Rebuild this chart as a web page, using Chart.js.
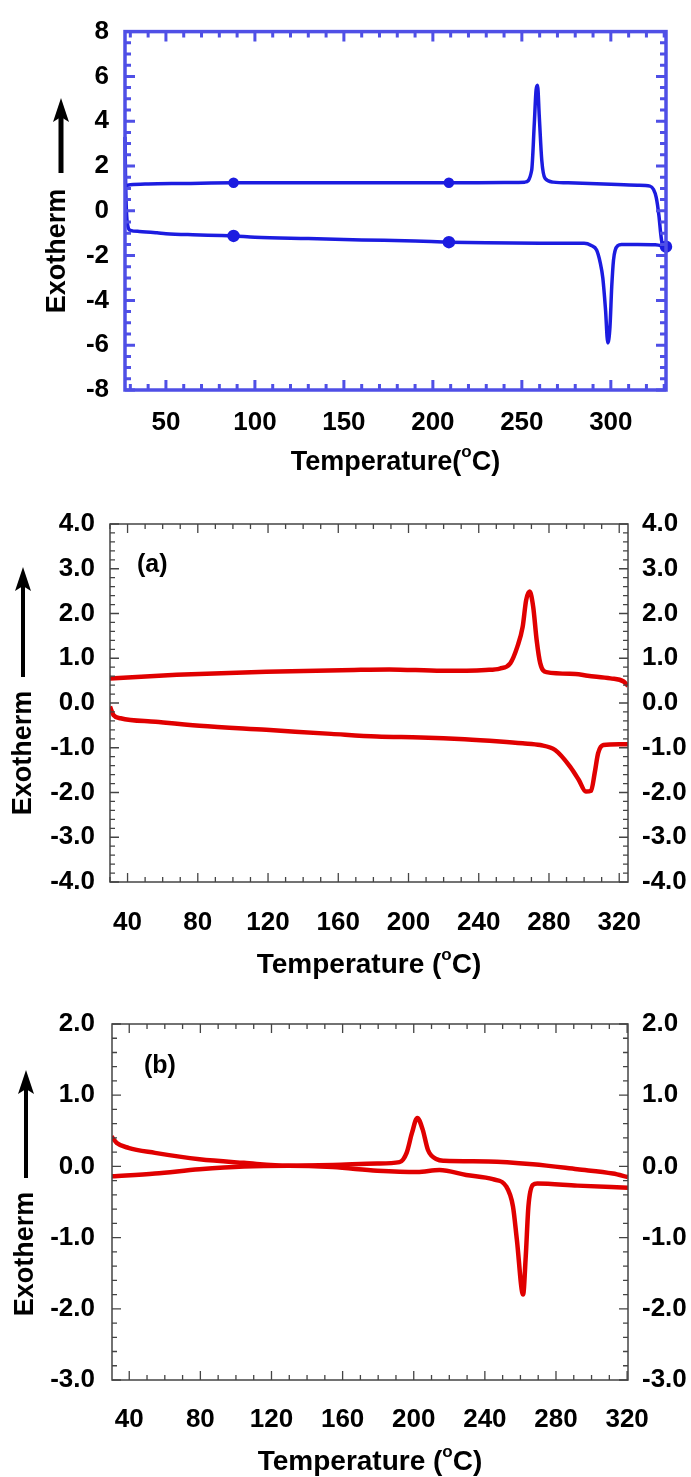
<!DOCTYPE html>
<html lang="en">
<head>
<meta charset="UTF-8">
<title>DSC curves</title>
<script src="https://cdn.jsdelivr.net/npm/chart.js"></script>
<style>
  html, body { margin: 0; padding: 0; background: #fff; }
  #wrap { position: relative; width: 691px; height: 1477px; }
  .panel { position: absolute; left: 0; width: 691px; }
</style>
</head>
<body>
<div id="wrap">
  <div class="panel" style="top:0"><canvas id="c1" width="691" height="490"></canvas></div>
  <div class="panel" style="top:490px"><canvas id="c2" width="691" height="500"></canvas></div>
  <div class="panel" style="top:990px"><canvas id="c3" width="691" height="487"></canvas></div>
</div>
<script>
// ---- top panel (blue) ----
const topTicksX = [50, 100, 150, 200, 250, 300];
const topTicksY = [-8, -6, -4, -2, 0, 2, 4, 6, 8];
const topUpperT = [27, 30, 40, 60, 88, 120, 160, 209, 240, 251.7, 255.5, 257, 258, 258.8, 259.8, 261.2, 263, 267.6, 280, 300, 315, 322, 324, 325.5, 327, 328, 329];
const topUpperV = [1.12, 1.16, 1.2, 1.22, 1.25, 1.25, 1.25, 1.25, 1.26, 1.28, 1.8, 3.9, 5.4, 5.6, 4.2, 2.25, 1.45, 1.28, 1.24, 1.18, 1.14, 1.1, 0.95, 0.6, -0.2, -1.0, -1.6];
const topLowerT = [27, 27.3, 27.8, 28.5, 30, 35, 45, 50, 65, 81, 88, 100, 130, 160, 190, 209, 230, 260, 285, 289, 292, 294, 295.5, 297, 298.3, 299.5, 300.5, 301.5, 302.5, 304, 306, 315, 325, 331];
const topLowerV = [3.3, 1.5, 0.0, -0.65, -0.87, -0.92, -0.98, -1.02, -1.07, -1.1, -1.12, -1.18, -1.24, -1.3, -1.35, -1.4, -1.43, -1.45, -1.45, -1.55, -1.75, -2.3, -3.0, -4.4, -5.9, -5.2, -3.4, -2.2, -1.75, -1.55, -1.5, -1.5, -1.52, -1.6];
const topMarkT = [88, 209, 331];

// ---- panel (a) ----
const aTicksX = [40, 80, 120, 160, 200, 240, 280, 320];
const aTicksY = [-4, -3, -2, -1, 0, 1, 2, 3, 4];
const aUpperT = [30, 68, 119, 169, 189, 219, 244, 252, 258, 262, 265, 267, 269, 271, 273, 275, 278.5, 295, 302, 315, 322.5, 325];
const aUpperV = [0.55, 0.63, 0.70, 0.74, 0.75, 0.72, 0.74, 0.77, 0.89, 1.26, 1.7, 2.3, 2.49, 2.15, 1.4, 0.89, 0.69, 0.65, 0.61, 0.55, 0.48, 0.38];
const aLowerT = [30, 32, 36, 56, 81, 119, 156, 182, 207, 232, 252, 265, 275, 283.5, 292, 297, 301, 304, 306, 308, 311, 320, 325];
const aLowerV = [-0.08, -0.27, -0.34, -0.42, -0.51, -0.60, -0.69, -0.75, -0.77, -0.81, -0.86, -0.90, -0.94, -1.05, -1.42, -1.72, -1.98, -1.96, -1.57, -1.12, -0.94, -0.92, -0.92];

// ---- panel (b) ----
const bTicksX = [40, 80, 120, 160, 200, 240, 280, 320];
const bTicksY = [-3, -2, -1, 0, 1, 2];
const bUpperT = [30, 33, 39.5, 54.5, 79.5, 104.5, 129.5, 154.5, 179.5, 192, 196, 199, 202, 205, 208, 213, 217, 242, 267, 292, 312, 320.5];
const bUpperV = [0.42, 0.33, 0.26, 0.19, 0.10, 0.05, 0.01, 0.02, 0.04, 0.06, 0.19, 0.47, 0.68, 0.52, 0.23, 0.10, 0.08, 0.07, 0.03, -0.04, -0.10, -0.15];
const bLowerT = [30, 54.5, 79.5, 104.5, 129.5, 154.5, 179.5, 202, 214.5, 229.5, 244.5, 252, 255.8, 258, 261.5, 263, 264.5, 267, 269.5, 292, 320.5];
const bLowerV = [-0.14, -0.10, -0.04, 0.0, 0.01, -0.01, -0.06, -0.08, -0.05, -0.12, -0.18, -0.28, -0.56, -1.03, -1.80, -1.26, -0.56, -0.26, -0.24, -0.27, -0.30];

const FONT = "'Liberation Sans', Arial, sans-serif";

function pts(xs, ys) {
  return xs.map((x, i) => ({ x: x, y: ys[i] }));
}

// frame, inward ticks, titles, arrow
const decor = {
  id: 'decor',
  afterDatasetsDraw(chart, args, o) {
    const ctx = chart.ctx;
    const a = chart.chartArea;
    const sx = chart.scales.x, sy = chart.scales.y;
    ctx.save();
    ctx.strokeStyle = o.color;
    ctx.lineCap = 'butt';

    function each(min, max, step, major, fn) {
      const k0 = Math.ceil(min / step - 1e-9), k1 = Math.floor(max / step + 1e-9);
      for (let k = k0; k <= k1; k++) {
        const v = k * step;
        const r = v / major;
        fn(v, Math.abs(r - Math.round(r)) < 1e-6);
      }
    }
    ctx.lineWidth = o.tickWidth;
    ctx.beginPath();
    each(sx.min, sx.max, o.xMinor, o.xMajor, (v, big) => {
      const px = sx.getPixelForValue(v);
      const len = big ? o.majorLen : o.minorLen;
      ctx.moveTo(px, a.bottom); ctx.lineTo(px, a.bottom - len);
      ctx.moveTo(px, a.top); ctx.lineTo(px, a.top + len);
    });
    each(sy.min, sy.max, o.yMinor, o.yMajor, (v, big) => {
      const py = sy.getPixelForValue(v);
      const len = big ? o.majorLen : o.minorLen;
      ctx.moveTo(a.left, py); ctx.lineTo(a.left + len, py);
      ctx.moveTo(a.right, py); ctx.lineTo(a.right - len, py);
    });
    ctx.stroke();

    ctx.lineWidth = o.frameWidth;
    ctx.strokeRect(a.left, a.top, a.right - a.left, a.bottom - a.top);

    // x title with superscript o
    ctx.fillStyle = '#000';
    ctx.textBaseline = 'alphabetic';
    const fs = o.titleSize;
    const big = 'bold ' + fs + 'px ' + FONT;
    const small = 'bold ' + Math.round(fs * 0.62) + 'px ' + FONT;
    ctx.font = big;
    const w1 = ctx.measureText(o.xTitle[0]).width;
    const w3 = ctx.measureText(o.xTitle[2]).width;
    ctx.font = small;
    const w2 = ctx.measureText(o.xTitle[1]).width;
    let tx = (a.left + a.right) / 2 - (w1 + w2 + w3) / 2;
    const ty = a.bottom + o.xTitleOffset + fs * 0.36;
    ctx.font = big;
    ctx.textAlign = 'left';
    ctx.fillText(o.xTitle[0], tx, ty);
    ctx.font = small;
    ctx.fillText(o.xTitle[1], tx + w1, ty - fs * 0.47);
    ctx.font = big;
    ctx.fillText(o.xTitle[2], tx + w1 + w2, ty);

    // y title rotated
    ctx.save();
    ctx.translate(o.yTitleX, o.yTitleY);
    ctx.rotate(-Math.PI / 2);
    ctx.font = 'bold ' + o.yTitleSize + 'px ' + FONT;
    ctx.textAlign = 'center';
    ctx.textBaseline = 'middle';
    ctx.fillText(o.yTitle, 0, 0);
    ctx.restore();

    // arrow
    ctx.fillStyle = '#000';
    ctx.strokeStyle = '#000';
    ctx.lineWidth = o.arrow.width;
    ctx.beginPath();
    ctx.moveTo(o.arrow.x, o.arrow.bottom);
    ctx.lineTo(o.arrow.x, o.arrow.tip + 12);
    ctx.stroke();
    ctx.beginPath();
    ctx.moveTo(o.arrow.x, o.arrow.tip);
    ctx.lineTo(o.arrow.x - 8, o.arrow.tip + 24);
    ctx.lineTo(o.arrow.x, o.arrow.tip + 19);
    ctx.lineTo(o.arrow.x + 8, o.arrow.tip + 24);
    ctx.closePath();
    ctx.fill();

    if (o.panel) {
      ctx.font = 'bold 25px ' + FONT;
      ctx.textAlign = 'left';
      ctx.textBaseline = 'middle';
      ctx.fillText(o.panel.text, o.panel.x, o.panel.y);
    }
    ctx.restore();
  }
};

function makeChart(id, cfg) {
  const tickFont = { family: FONT, size: 26, weight: 'bold' };
  const scales = {
    x: {
      type: 'linear', min: cfg.xMin, max: cfg.xMax,
      grid: { display: false, drawTicks: false }, border: { display: false },
      ticks: { font: tickFont, color: '#000', padding: cfg.xPad, maxRotation: 0, autoSkip: false },
      afterBuildTicks: s => { s.ticks = cfg.ticksX.map(v => ({ value: v })); },
      afterFit: s => { s.height = cfg.xHeight; }
    },
    y: {
      type: 'linear', min: cfg.yMin, max: cfg.yMax,
      grid: { display: false, drawTicks: false }, border: { display: false },
      ticks: { font: tickFont, color: '#000', padding: cfg.yPad, autoSkip: false, callback: cfg.fmt },
      afterBuildTicks: s => { s.ticks = cfg.ticksY.map(v => ({ value: v })); },
      afterFit: s => { s.width = cfg.yWidth; }
    }
  };
  if (cfg.right) {
    scales.y2 = {
      type: 'linear', position: 'right', min: cfg.yMin, max: cfg.yMax,
      grid: { display: false, drawTicks: false }, border: { display: false },
      ticks: { font: tickFont, color: '#000', padding: 14, autoSkip: false, callback: cfg.fmt },
      afterBuildTicks: s => { s.ticks = cfg.ticksY.map(v => ({ value: v })); },
      afterFit: s => { s.width = cfg.right; }
    };
  }
  return new Chart(document.getElementById(id), {
    type: 'line',
    data: { datasets: cfg.datasets },
    options: {
      responsive: false,
      animation: false,
      layout: { padding: cfg.padding },
      plugins: { legend: { display: false }, tooltip: { enabled: false }, decor: cfg.decor },
      elements: { line: { cubicInterpolationMode: 'monotone' } },
      scales: scales
    },
    plugins: [decor]
  });
}

const blue = '#1c1ce0';
makeChart('c1', {
  xMin: 27, xMax: 331, yMin: -8, yMax: 8,
  ticksX: topTicksX, ticksY: topTicksY,
  fmt: v => String(v),
  xPad: 17, yPad: 16, xHeight: 100, yWidth: 125,
  padding: { top: 31, right: 25, left: 0, bottom: 0 },
  datasets: [
    { data: pts(topUpperT, topUpperV), borderColor: blue, borderWidth: 3.5, backgroundColor: blue, clip: 8,
      pointRadius: ctx => topMarkT.includes(topUpperT[ctx.dataIndex]) ? 3.5 : 0 },
    { data: pts(topLowerT, topLowerV), borderColor: blue, borderWidth: 3.5, backgroundColor: blue, clip: 8,
      pointRadius: ctx => topMarkT.includes(topLowerT[ctx.dataIndex]) ? 4.5 : 0 }
  ],
  decor: {
    color: '#4f4fe6', tickWidth: 3, frameWidth: 3.5, majorLen: 10, minorLen: 6,
    xMinor: 10, xMajor: 50, yMinor: 0.5, yMajor: 2,
    xTitle: ['Temperature(', 'o', 'C)'], titleSize: 27, xTitleOffset: 70,
    yTitle: 'Exotherm', yTitleSize: 27, yTitleX: 58, yTitleY: 251,
    arrow: { x: 61, tip: 98, bottom: 173, width: 5 }
  }
});

const red = '#e00000';
makeChart('c2', {
  xMin: 30, xMax: 325, yMin: -4, yMax: 4,
  ticksX: aTicksX, ticksY: aTicksY,
  fmt: v => v.toFixed(1),
  xPad: 25, yPad: 15, xHeight: 108, yWidth: 110, right: 63,
  padding: { top: 34, right: 0, left: 0, bottom: 0 },
  datasets: [
    { data: pts(aUpperT, aUpperV), borderColor: red, borderWidth: 4.5, pointRadius: 0 },
    { data: pts(aLowerT, aLowerV), borderColor: red, borderWidth: 4.5, pointRadius: 0 }
  ],
  decor: {
    color: '#444', tickWidth: 1.3, frameWidth: 1.5, majorLen: 9, minorLen: 5,
    xMinor: 10, xMajor: 40, yMinor: 0.2, yMajor: 1,
    xTitle: ['Temperature (', 'o', 'C)'], titleSize: 28, xTitleOffset: 81,
    yTitle: 'Exotherm', yTitleSize: 27, yTitleX: 24, yTitleY: 263,
    arrow: { x: 23, tip: 77, bottom: 187, width: 4 },
    panel: { text: '(a)', x: 137, y: 75 }
  }
});

makeChart('c3', {
  xMin: 30.3, xMax: 320.5, yMin: -3, yMax: 2,
  ticksX: bTicksX, ticksY: bTicksY,
  fmt: v => v.toFixed(1),
  xPad: 24, yPad: 17, xHeight: 97, yWidth: 112, right: 63,
  padding: { top: 34, right: 0, left: 0, bottom: 0 },
  datasets: [
    { data: pts(bUpperT, bUpperV), borderColor: red, borderWidth: 4.5, pointRadius: 0 },
    { data: pts(bLowerT, bLowerV), borderColor: red, borderWidth: 4.5, pointRadius: 0 }
  ],
  decor: {
    color: '#444', tickWidth: 1.3, frameWidth: 1.5, majorLen: 9, minorLen: 5,
    xMinor: 10, xMajor: 40, yMinor: 0.2, yMajor: 1,
    xTitle: ['Temperature (', 'o', 'C)'], titleSize: 28, xTitleOffset: 80,
    yTitle: 'Exotherm', yTitleSize: 27, yTitleX: 26, yTitleY: 264,
    arrow: { x: 26, tip: 80, bottom: 188, width: 4 },
    panel: { text: '(b)', x: 144, y: 76 }
  }
});
</script>
</body>
</html>
